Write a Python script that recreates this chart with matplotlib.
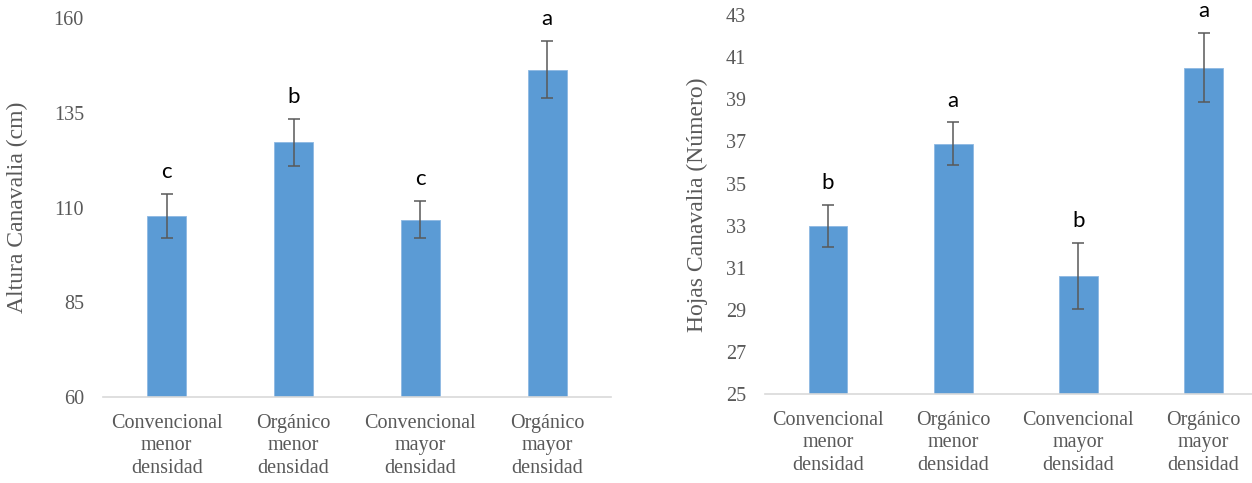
import numpy as np
import matplotlib
matplotlib.use('Agg')
import matplotlib.pyplot as plt

categorias = ['Convencional\nmenor\ndensidad', 'Orgánico\nmenor\ndensidad',
              'Convencional\nmayor\ndensidad', 'Orgánico\nmayor\ndensidad']

altura = [107.7, 127.2, 106.8, 146.4]
altura_err = [5.8, 6.2, 4.9, 7.6]
altura_letras = ['c', 'b', 'c', 'a']

hojas = [33.0, 36.9, 30.6, 40.5]
hojas_err = [1.0, 1.0, 1.57, 1.63]
hojas_letras = ['b', 'a', 'b', 'a']

color_barra = '#5B9BD5'
gris = '#595959'
serif = 'Liberation Serif'

fig = plt.figure(figsize=(12.52, 4.83), dpi=100)
ax1 = fig.add_axes([0.0825, 0.1774, 0.4053, 0.7853])
ax2 = fig.add_axes([0.6113, 0.1836, 0.4, 0.7853])


def dibujar(ax, valores, errores, letras, ylim, yticks, ylabel, label_x):
    x = np.arange(len(categorias))
    ax.bar(x, valores, width=0.31, color=color_barra, edgecolor='#8DB8E2',
           linewidth=0.6, zorder=2)
    ax.errorbar(x, valores, yerr=errores, fmt='none', ecolor=gris,
                elinewidth=1.1, capsize=4.5, capthick=1.1, zorder=3)
    for xi, v, e, l in zip(x, valores, errores, letras):
        ax.annotate(l, (xi, v + e), xytext=(0, 11.5), textcoords='offset points',
                    ha='center', va='baseline', fontsize=16, family='Lato',
                    color='black')
    ax.set_xlim(-0.5, 3.5)
    ax.set_ylim(*ylim)
    ax.set_yticks(yticks)
    ax.set_xticks(x)
    ax.set_xticklabels(categorias, linespacing=1.25)
    for s in ['top', 'right', 'left']:
        ax.spines[s].set_visible(False)
    ax.spines['bottom'].set_color('#D9D9D9')
    ax.spines['bottom'].set_linewidth(1.2)
    ax.tick_params(axis='both', length=0, colors=gris, labelsize=14.5)
    ax.tick_params(axis='y', pad=14)
    ax.tick_params(axis='x', pad=12)
    for t in ax.get_xticklabels() + ax.get_yticklabels():
        t.set_family(serif)
    ax.set_ylabel(ylabel, family=serif, fontsize=17, color=gris)
    ax.yaxis.set_label_coords(label_x, 0.5)


dibujar(ax1, altura, altura_err, altura_letras, (60, 160), [60, 85, 110, 135, 160],
        'Altura Canavalia (cm)', -0.148)
dibujar(ax2, hojas, hojas_err, hojas_letras, (25, 43), list(range(25, 44, 2)),
        'Hojas Canavalia (Número)', -0.114)

fig.savefig('out.png', dpi=100)
